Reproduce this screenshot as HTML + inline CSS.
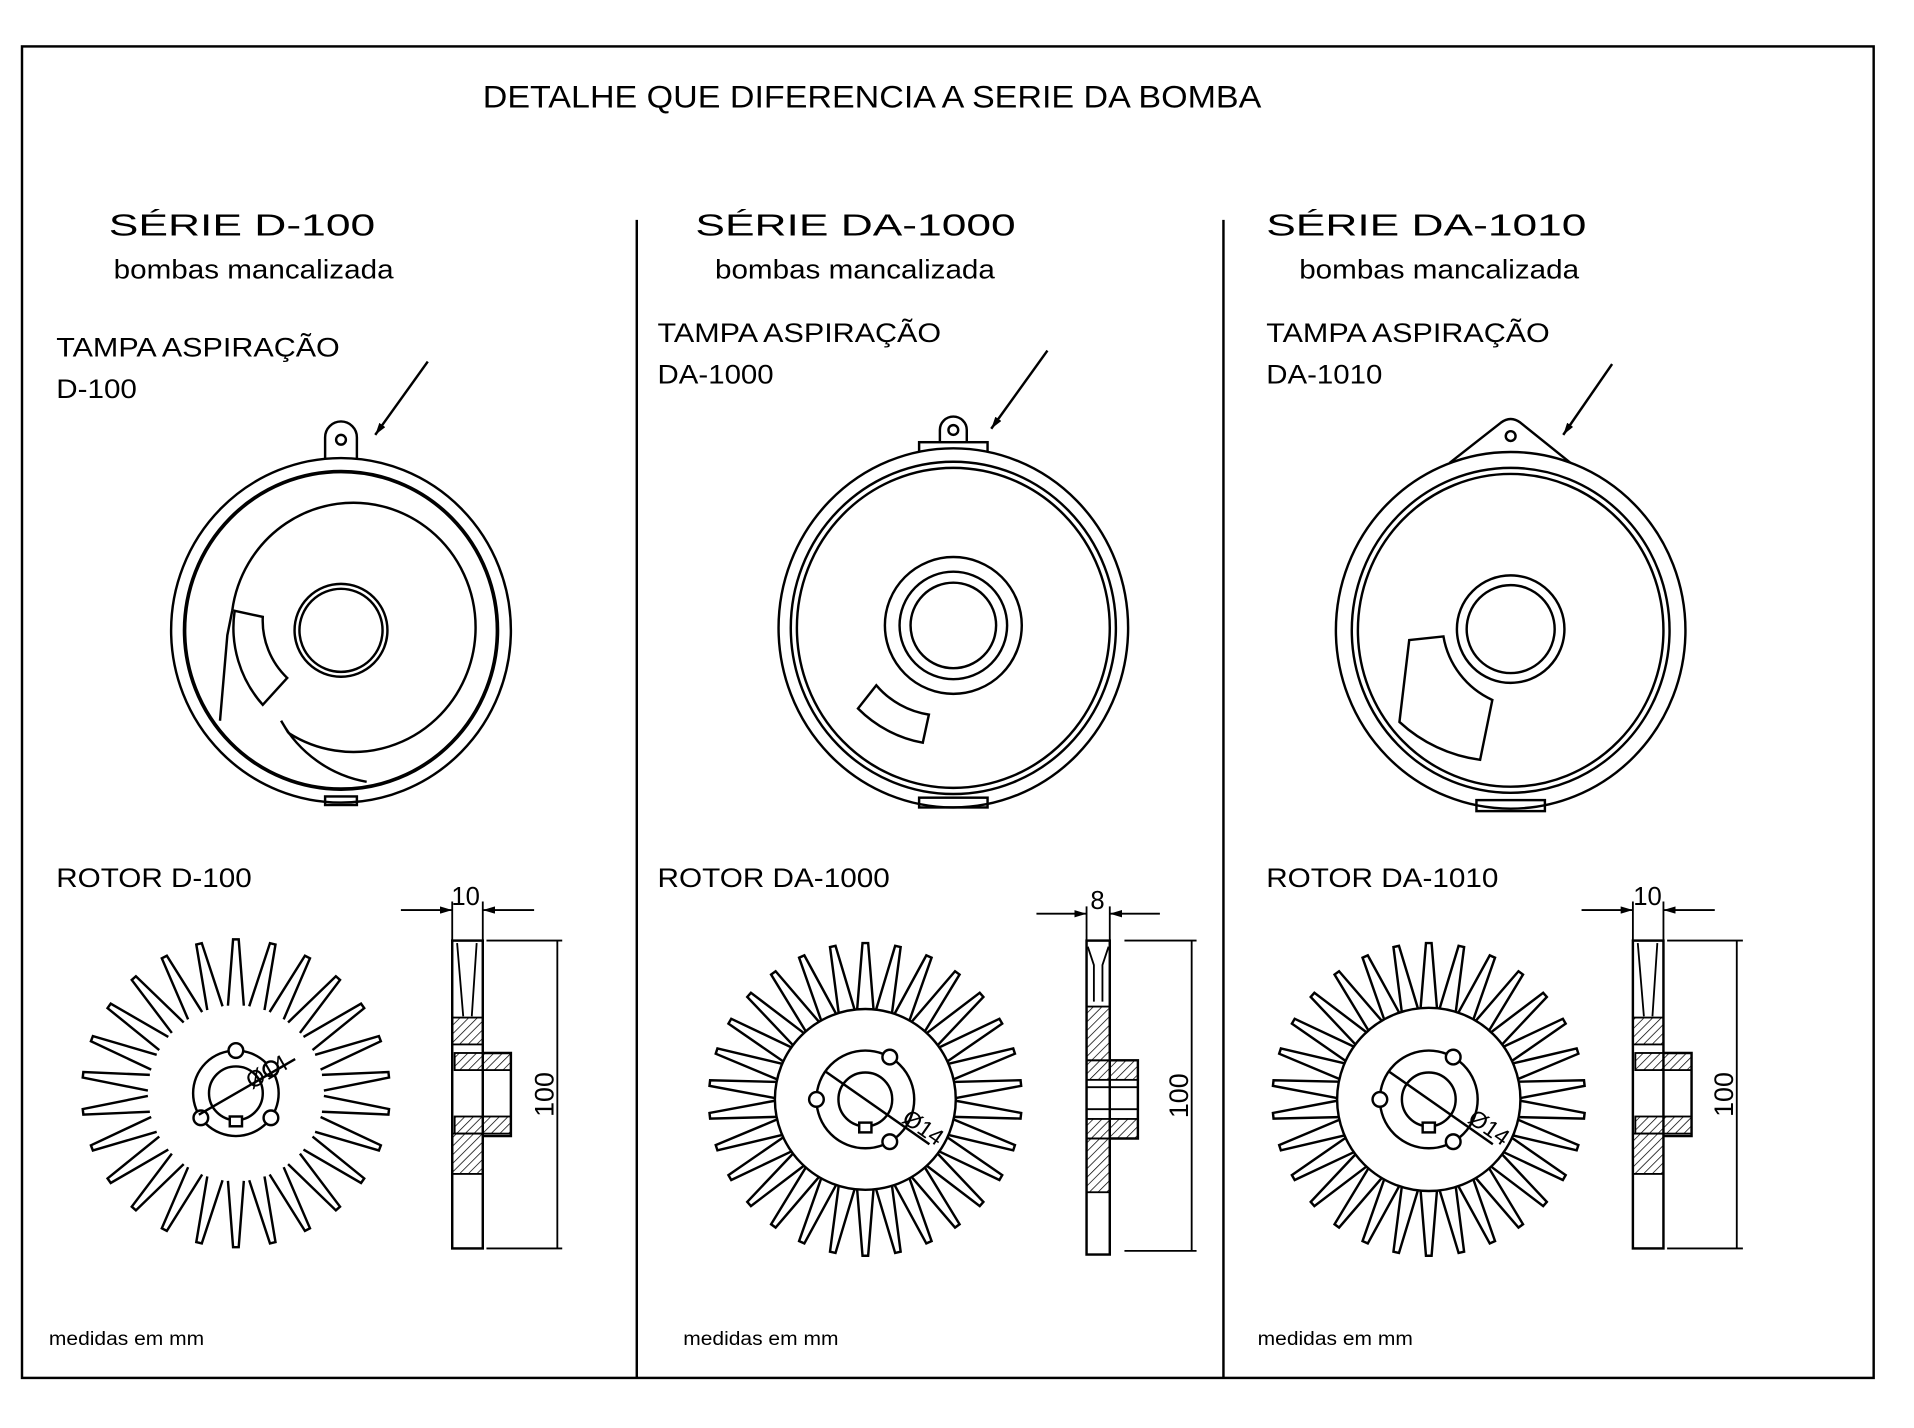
<!DOCTYPE html>
<html><head><meta charset="utf-8"><style>
html,body{margin:0;padding:0;background:#fff;}
svg{display:block;}
text{font-family:"Liberation Sans",sans-serif;fill:#000;}
</style></head><body>
<svg id="s" width="1914" height="1428" viewBox="0 0 1566 1169" preserveAspectRatio="none" xmlns="http://www.w3.org/2000/svg">
<defs>
<pattern id="h" width="5" height="5" patternUnits="userSpaceOnUse" patternTransform="rotate(45)"><line x1="0" y1="0" x2="0" y2="5" stroke="#000" stroke-width="1.2"/></pattern>
<marker id="a" markerWidth="10" markerHeight="6" refX="10" refY="3" orient="auto" markerUnits="userSpaceOnUse"><path d="M0,0 L10,3 L0,6Z" fill="#000"/></marker>
</defs>
<rect x="18" y="38" width="1515" height="1090" fill="none" stroke="#000" stroke-width="2"/>
<line x1="521" y1="180" x2="521" y2="1128" stroke="#000" stroke-width="2"/>
<line x1="1001" y1="180" x2="1001" y2="1128" stroke="#000" stroke-width="2"/>
<text x="395" y="88" font-size="26" textLength="637" lengthAdjust="spacingAndGlyphs">DETALHE QUE DIFERENCIA A SERIE DA BOMBA</text>

<text x="89" y="193" font-size="25" textLength="218" lengthAdjust="spacingAndGlyphs">SÉRIE D-100</text>
<text x="93" y="228" font-size="22" textLength="229" lengthAdjust="spacingAndGlyphs">bombas mancalizada</text>
<text x="46" y="292" font-size="22" textLength="232" lengthAdjust="spacingAndGlyphs">TAMPA ASPIRAÇÃO</text>
<text x="46" y="326" font-size="22" textLength="66" lengthAdjust="spacingAndGlyphs">D-100</text>
<text x="569" y="193" font-size="25" textLength="262" lengthAdjust="spacingAndGlyphs">SÉRIE DA-1000</text>
<text x="585" y="228" font-size="22" textLength="229" lengthAdjust="spacingAndGlyphs">bombas mancalizada</text>
<text x="538" y="280" font-size="22" textLength="232" lengthAdjust="spacingAndGlyphs">TAMPA ASPIRAÇÃO</text>
<text x="538" y="314" font-size="22" textLength="95" lengthAdjust="spacingAndGlyphs">DA-1000</text>
<text x="1036" y="193" font-size="25" textLength="262" lengthAdjust="spacingAndGlyphs">SÉRIE DA-1010</text>
<text x="1063" y="228" font-size="22" textLength="229" lengthAdjust="spacingAndGlyphs">bombas mancalizada</text>
<text x="1036" y="280" font-size="22" textLength="232" lengthAdjust="spacingAndGlyphs">TAMPA ASPIRAÇÃO</text>
<text x="1036" y="314" font-size="22" textLength="95" lengthAdjust="spacingAndGlyphs">DA-1010</text>
<text x="46" y="726" font-size="22" textLength="160" lengthAdjust="spacingAndGlyphs">ROTOR D-100</text>
<text x="538" y="726" font-size="22" textLength="190" lengthAdjust="spacingAndGlyphs">ROTOR DA-1000</text>
<text x="1036" y="726" font-size="22" textLength="190" lengthAdjust="spacingAndGlyphs">ROTOR DA-1010</text>
<text x="40" y="1101" font-size="16" textLength="127" lengthAdjust="spacingAndGlyphs">medidas em mm</text>
<text x="559" y="1101" font-size="16" textLength="127" lengthAdjust="spacingAndGlyphs">medidas em mm</text>
<text x="1029" y="1101" font-size="16" textLength="127" lengthAdjust="spacingAndGlyphs">medidas em mm</text>

<g fill="none" stroke="#000" stroke-width="2">
<!-- cover 1 -->
<path d="M266,375 L266,358 A13,13 0 0 1 292,358 L292,375"/>
<circle cx="279" cy="360" r="4"/>
<ellipse cx="279" cy="516" rx="139" ry="141" fill="#fff"/>
<ellipse cx="279" cy="516" rx="128" ry="130" stroke-width="3"/>
<path d="M190,500 A100,102 0 1 1 236,600"/>
<path d="M236,600 L230,590 A100,100 0 0 0 300,640"/>
<path d="M190,500 L186,520 L180,590"/>
<path d="M192,500 L215,505 A65,65 0 0 0 235,555 L215,577 A95,95 0 0 1 192,500Z"/>
<circle cx="279" cy="516" r="38"/><circle cx="279" cy="516" r="34"/>
<rect x="266" y="652" width="26" height="7"/>
<line x1="350" y1="296" x2="307" y2="356" marker-end="url(#a)"/>
<!-- cover 2 -->
<rect x="752" y="362" width="56" height="8"/>
<path d="M769,362 L769,352 A11,11 0 0 1 791,352 L791,362"/>
<circle cx="780" cy="352" r="4"/>
<ellipse cx="780" cy="514" rx="143" ry="147" fill="#fff"/>
<ellipse cx="780" cy="514" rx="133" ry="136"/>
<ellipse cx="780" cy="514" rx="128" ry="131"/>
<circle cx="780" cy="512" r="56"/><circle cx="780" cy="512" r="44"/><circle cx="780" cy="512" r="35"/>
<path d="M717,561 L702,580 A100,100 0 0 0 755,608 L760,585 A70,70 0 0 1 717,561Z"/>
<rect x="752" y="653" width="56" height="8"/>
<line x1="857" y1="287" x2="811" y2="351" marker-end="url(#a)"/>
<!-- cover 3 -->
<path d="M1186,379 L1228,346 Q1236,340 1244,346 L1285,379"/>
<circle cx="1236" cy="357" r="4"/>
<ellipse cx="1236" cy="516" rx="143" ry="146" fill="#fff"/>
<ellipse cx="1236" cy="516" rx="130" ry="133"/>
<ellipse cx="1236" cy="516" rx="125" ry="128"/>
<circle cx="1236" cy="515" r="44"/><circle cx="1236" cy="515" r="36"/>
<path d="M1153,524 L1181,521 A70,70 0 0 0 1221,573 L1211,622 A120,120 0 0 1 1145,591Z"/>
<rect x="1208" y="655" width="56" height="9"/>
<line x1="1319" y1="298" x2="1279" y2="356" marker-end="url(#a)"/>
</g>

<g id="rotors" fill="none" stroke="#000" stroke-width="2"></g>

<g fill="none" stroke="#000" stroke-width="1.5">
<rect x="370" y="770" width="25" height="252" stroke-width="2"/>
<path d="M374,772 L379,832 M390,772 L386,832"/>
<rect x="370" y="833" width="25" height="22" fill="url(#h)"/>
<rect x="372" y="862" width="46" height="14" fill="url(#h)"/>
<rect x="372" y="914" width="46" height="14" fill="url(#h)"/>
<rect x="370" y="928" width="25" height="33" fill="url(#h)"/>
<path d="M395,862 L418,862 L418,930 L395,930" stroke-width="2"/>
<line x1="395" y1="770" x2="395" y2="738"/><line x1="370" y1="770" x2="370" y2="738"/>
<line x1="328" y1="745" x2="370" y2="745" marker-end="url(#a)"/><line x1="437" y1="745" x2="395" y2="745" marker-end="url(#a)"/>
<line x1="398" y1="770" x2="460" y2="770"/><line x1="398" y1="1022" x2="460" y2="1022"/>
<line x1="456" y1="770" x2="456" y2="1022"/>
<rect x="889" y="770" width="19" height="257" stroke-width="2"/>
<path d="M890,775 L895,790 L895,820 M907,775 L902,790 L902,820"/>
<rect x="889" y="824" width="19" height="44" fill="url(#h)"/>
<rect x="889" y="868" width="42" height="16" fill="url(#h)"/>
<rect x="889" y="916" width="42" height="16" fill="url(#h)"/>
<rect x="889" y="932" width="19" height="44" fill="url(#h)"/>
<path d="M908,868 L931,868 L931,932 L908,932" stroke-width="2"/>
<line x1="889" y1="890" x2="931" y2="890"/><line x1="889" y1="908" x2="931" y2="908"/>
<line x1="889" y1="770" x2="889" y2="742"/><line x1="908" y1="770" x2="908" y2="742"/>
<line x1="848" y1="748" x2="889" y2="748" marker-end="url(#a)"/><line x1="949" y1="748" x2="908" y2="748" marker-end="url(#a)"/>
<line x1="920" y1="770" x2="979" y2="770"/><line x1="920" y1="1024" x2="979" y2="1024"/>
<line x1="975" y1="770" x2="975" y2="1024"/>
<rect x="1336" y="770" width="25" height="252" stroke-width="2"/>
<path d="M1340,772 L1345,832 M1356,772 L1352,832"/>
<rect x="1336" y="833" width="25" height="22" fill="url(#h)"/>
<rect x="1338" y="862" width="46" height="14" fill="url(#h)"/>
<rect x="1338" y="914" width="46" height="14" fill="url(#h)"/>
<rect x="1336" y="928" width="25" height="33" fill="url(#h)"/>
<path d="M1361,862 L1384,862 L1384,930 L1361,930" stroke-width="2"/>
<line x1="1361" y1="770" x2="1361" y2="738"/><line x1="1336" y1="770" x2="1336" y2="738"/>
<line x1="1294" y1="745" x2="1336" y2="745" marker-end="url(#a)"/><line x1="1403" y1="745" x2="1361" y2="745" marker-end="url(#a)"/>
<line x1="1364" y1="770" x2="1426" y2="770"/><line x1="1364" y1="1022" x2="1426" y2="1022"/>
<line x1="1421" y1="770" x2="1421" y2="1022"/>
</g>
<text x="381" y="741" font-size="21" text-anchor="middle">10</text>
<text x="898" y="744" font-size="21" text-anchor="middle">8</text>
<text x="1348" y="741" font-size="21" text-anchor="middle">10</text>
<text transform="translate(453,896) rotate(-90)" font-size="22" text-anchor="middle">100</text>
<text transform="translate(972,897) rotate(-90)" font-size="22" text-anchor="middle">100</text>
<text transform="translate(1418,896) rotate(-90)" font-size="22" text-anchor="middle">100</text>
<text transform="translate(206,892) rotate(-30)" font-size="19">Ø14</text>
<text transform="translate(737,918) rotate(35)" font-size="19">Ø14</text>
<text transform="translate(1200,918) rotate(35)" font-size="19">Ø14</text>
</svg>
<script>
var g=document.getElementById('rotors'),NS='http://www.w3.org/2000/svg';
function el(t,a){var e=document.createElementNS(NS,t);for(var k in a)e.setAttribute(k,a[k]);g.appendChild(e);return e;}
function rotor(cx,cy,n,r0,r1,disc,holes,ang){
 for(var i=0;i<n;i++){var t=(i/n)*2*Math.PI-Math.PI/2;
  var w0=0.09,w1=0.018;
  var p=[[r0,t-w0],[r1,t-w1],[r1,t+w1],[r0,t+w0]].map(function(q){return (cx+q[0]*Math.cos(q[1])).toFixed(1)+','+(cy+q[0]*Math.sin(q[1])).toFixed(1);});
  el('path',{d:'M'+p[0]+' L'+p[1]+' L'+p[2]+' L'+p[3]});
 }
 if(disc)el('circle',{cx:cx,cy:cy,r:r0,fill:'#fff'});
 var hr=disc?40:35;
 el('circle',{cx:cx,cy:cy,r:hr});
 el('circle',{cx:cx,cy:cy,r:22});
 el('rect',{x:cx-5,y:cy+19,width:10,height:8,fill:'#fff'});
 for(var j=0;j<holes.length;j++){var a=holes[j]*Math.PI/180;el('circle',{cx:cx+hr*Math.cos(a),cy:cy+hr*Math.sin(a),r:6,fill:'#fff'});}
 var a1=ang*Math.PI/180;
 el('line',{x1:cx-hr*Math.cos(a1),y1:cy-hr*Math.sin(a1),x2:cx+hr*1.6*Math.cos(a1),y2:cy+hr*1.6*Math.sin(a1)});
}
rotor(193,895,26,72,126,false,[-90,-35,145,35],-30);
rotor(708,900,30,74,128,true,[-60,60,180],35);
rotor(1169,900,30,75,128,true,[-60,60,180],35);
</script>
</body></html>
